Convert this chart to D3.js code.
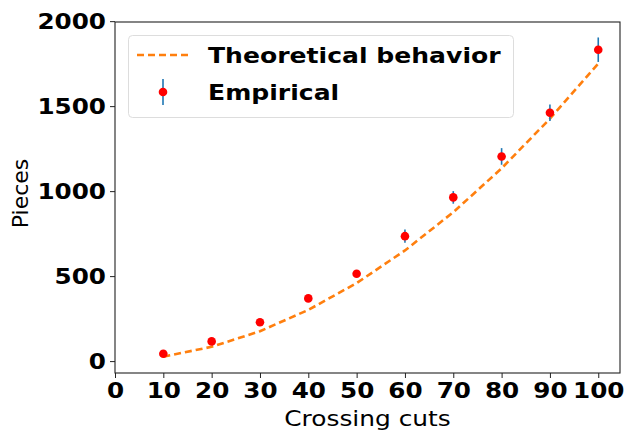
<!DOCTYPE html>
<html>
<head>
<meta charset="utf-8">
<script src="https://cdn.jsdelivr.net/npm/d3@7"></script>
<style>
  body { margin: 0; background: #fff; }
  svg text { font-family: "DejaVu Sans", sans-serif; }
</style>
</head>
<body>
<div id="graph"></div>
<script>
const cuts = [10, 20, 30, 40, 50, 60, 70, 80, 90, 100];
const theoretical = [26, 84, 176, 301, 459, 651, 876, 1134, 1426, 1751];
const empirical = [43, 116, 229, 369, 514, 735, 963, 1204, 1461, 1832];
const errors = [5, 8, 10, 12, 15, 39, 37, 49, 49, 72];
const xTicks = [0, 10, 20, 30, 40, 50, 60, 70, 80, 90, 100];
const yTicks = [0, 500, 1000, 1500, 2000];

let width = 625,
  height = 432,
  margin = { top: 22, left: 115, bottom: 59, right: 5 };

let svg = d3.select('#graph').append('svg')
  .attr('width', width)
  .attr('height', height);

// the picture is a bit wider than tall, so text gets stretched sideways
function widen(sel, k) {
  sel.each(function() {
    let w = this.getComputedTextLength();
    d3.select(this)
      .attr('textLength', w * k)
      .attr('lengthAdjust', 'spacingAndGlyphs');
  });
}

let x = d3.scaleLinear().domain([0, 104.5]).range([margin.left, width - margin.right]);
let y = d3.scaleLinear().domain([-70, 1995]).range([height - margin.bottom, margin.top]);

// axes
let xAxis = svg.append('g')
  .attr('transform', 'translate(0,' + (height - margin.bottom) + ')')
  .call(d3.axisBottom(x).tickValues(xTicks).tickFormat(d3.format('d')).tickSize(5).tickPadding(4));
let yAxis = svg.append('g')
  .attr('transform', 'translate(' + margin.left + ',0)')
  .call(d3.axisLeft(y).tickValues(yTicks).tickFormat(d3.format('d')).tickSize(5).tickPadding(4));

[xAxis, yAxis].forEach(function(a) {
  a.select('.domain').remove();
  a.selectAll('line').attr('stroke', '#222').attr('stroke-width', 1);
  a.selectAll('text')
    .attr('fill', '#000')
    .style('font-size', '22px')
    .style('font-weight', 'bold')
    .style('font-family', '"DejaVu Sans", sans-serif')
    .call(widen, 1.12);
});

// frame
svg.append('rect')
  .attr('x', margin.left)
  .attr('y', margin.top)
  .attr('width', width - margin.left - margin.right)
  .attr('height', height - margin.top - margin.bottom)
  .attr('fill', 'none')
  .attr('stroke', '#222')
  .attr('stroke-width', 1.1);

// theoretical line
let line = d3.line()
  .x(function(d, i) { return x(cuts[i]); })
  .y(function(d) { return y(d); });

svg.append('path')
  .datum(theoretical)
  .attr('d', line)
  .attr('fill', 'none')
  .attr('stroke', '#ff7f0e')
  .attr('stroke-width', 2.6)
  .attr('stroke-dasharray', '7,4');

// error bars
svg.append('g').selectAll('line')
  .data(empirical)
  .enter().append('line')
  .attr('x1', function(d, i) { return x(cuts[i]); })
  .attr('x2', function(d, i) { return x(cuts[i]); })
  .attr('y1', function(d, i) { return y(d - errors[i]); })
  .attr('y2', function(d, i) { return y(d + errors[i]); })
  .attr('stroke', '#1f77b4')
  .attr('stroke-width', 1.6);

svg.append('g').selectAll('circle')
  .data(empirical)
  .enter().append('circle')
  .attr('cx', function(d, i) { return x(cuts[i]); })
  .attr('cy', function(d) { return y(d); })
  .attr('r', 4.3)
  .attr('fill', '#ff0000');

// axis labels
svg.append('text')
  .attr('x', (margin.left + width - margin.right) / 2)
  .attr('y', 426)
  .attr('text-anchor', 'middle')
  .style('font-size', '22px')
  .text('Crossing cuts')
  .call(widen, 1.13);

svg.append('text')
  .attr('transform', 'translate(28,' + ((margin.top + height - margin.bottom) / 2 - 4) + ') rotate(-90)')
  .attr('text-anchor', 'middle')
  .style('font-size', '22px')
  .text('Pieces');

// legend
let legend = svg.append('g');
legend.append('rect')
  .attr('x', 128.5)
  .attr('y', 35.5)
  .attr('width', 385)
  .attr('height', 82)
  .attr('rx', 4)
  .attr('fill', '#fff')
  .attr('fill-opacity', 0.8)
  .attr('stroke', '#ddd')
  .attr('stroke-width', 1);

legend.append('line')
  .attr('x1', 137).attr('x2', 188)
  .attr('y1', 55).attr('y2', 55)
  .attr('stroke', '#ff7f0e')
  .attr('stroke-width', 2.6)
  .attr('stroke-dasharray', '7,4');

legend.append('line')
  .attr('x1', 163).attr('x2', 163)
  .attr('y1', 79).attr('y2', 105)
  .attr('stroke', '#1f77b4')
  .attr('stroke-width', 1.6);
legend.append('circle')
  .attr('cx', 163).attr('cy', 92)
  .attr('r', 4.3)
  .attr('fill', '#ff0000');

legend.append('text')
  .attr('x', 208).attr('y', 63)
  .style('font-size', '22px')
  .style('font-weight', 'bold')
  .text('Theoretical behavior')
  .call(widen, 1.14);
legend.append('text')
  .attr('x', 208).attr('y', 100)
  .style('font-size', '22px')
  .style('font-weight', 'bold')
  .text('Empirical')
  .call(widen, 1.14);
</script>
</body>
</html>
